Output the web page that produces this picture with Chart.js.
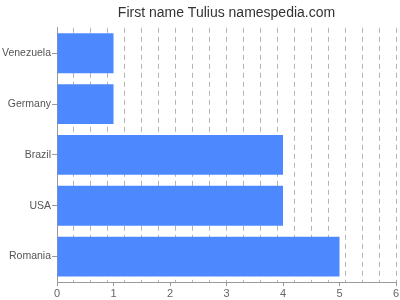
<!DOCTYPE html>
<html>
<head>
<meta charset="utf-8">
<script src="https://cdn.jsdelivr.net/npm/chart.js@4/dist/chart.umd.min.js"></script>
<style>
html,body{margin:0;padding:0;background:#fff;}
#wrap{width:400px;height:300px;}
</style>
</head>
<body>
<div id="wrap"><canvas id="c" width="400" height="300"></canvas></div>
<script>
const categories = ["Venezuela", "Germany", "Brazil", "USA", "Romania"];
const counts = [1, 1, 4, 4, 5];
const axisMax = 6;
const gridStep = 0.3;
const labelTicks = [0, 1, 2, 3, 4, 5, 6];

function isGrid(v){ const r = v / gridStep; return Math.abs(r - Math.round(r)) < 1e-6; }
function isInt(v){ return Math.abs(v - Math.round(v)) < 1e-6; }

new Chart(document.getElementById('c'), {
  type: 'bar',
  data: {
    labels: categories,
    datasets: [{
      data: counts,
      backgroundColor: '#4d88ff',
      borderWidth: 0,
      barPercentage: 0.784,
      categoryPercentage: 1
    }]
  },
  options: {
    indexAxis: 'y',
    responsive: false,
    animation: false,
    devicePixelRatio: 1,
    layout: { padding: { top: 0, right: 0, left: 0, bottom: 0 } },
    plugins: {
      legend: { display: false },
      tooltip: { enabled: false },
      title: {
        display: true,
        text: 'First name Tulius namespedia.com',
        fullSize: false,
        color: '#333',
        font: { family: 'Liberation Sans, Arial, sans-serif', size: 14, weight: 'normal' },
        padding: { top: 5, bottom: 6 }
      }
    },
    scales: {
      x: {
        min: 0,
        max: axisMax,
        afterBuildTicks: (scale) => {
          const vals = new Set();
          for (let k = 0; k * gridStep <= axisMax + 1e-9; k++) vals.add(Math.round(k * gridStep * 10) / 10);
          labelTicks.forEach(v => vals.add(v));
          scale.ticks = Array.from(vals).sort((a, b) => a - b).map(v => ({ value: v }));
        },
        afterFit: (scale) => { scale.height = 18; scale.paddingRight = 4; scale.paddingLeft = 0; },
        border: { display: true, color: '#999', width: 1, dash: [5, 4] },
        grid: {
          display: true,
          drawOnChartArea: true,
          drawTicks: true,
          tickLength: 4,
          lineWidth: 1,
          color: (ctx) => (ctx.tick && isGrid(ctx.tick.value)) ? '#b5b5b5' : 'rgba(0,0,0,0)',
          tickColor: (ctx) => (ctx.tick && isInt(ctx.tick.value)) ? '#999' : 'rgba(0,0,0,0)'
        },
        ticks: {
          autoSkip: false,
          maxRotation: 0,
          padding: 1,
          color: '#666',
          font: { family: 'Liberation Sans, Arial, sans-serif', size: 11 },
          callback: (v) => isInt(v) ? String(Math.round(v)) : ''
        }
      },
      y: {
        afterFit: (scale) => { scale.width = 57; },
        border: { display: true, color: '#999', width: 1 },
        grid: {
          display: true,
          offset: false,
          drawOnChartArea: false,
          drawTicks: true,
          tickLength: 5,
          tickColor: '#999'
        },
        ticks: {
          padding: 1,
          color: '#555',
          font: { family: 'Liberation Sans, Arial, sans-serif', size: 10.5 }
        }
      }
    }
  }
});
</script>
</body>
</html>
